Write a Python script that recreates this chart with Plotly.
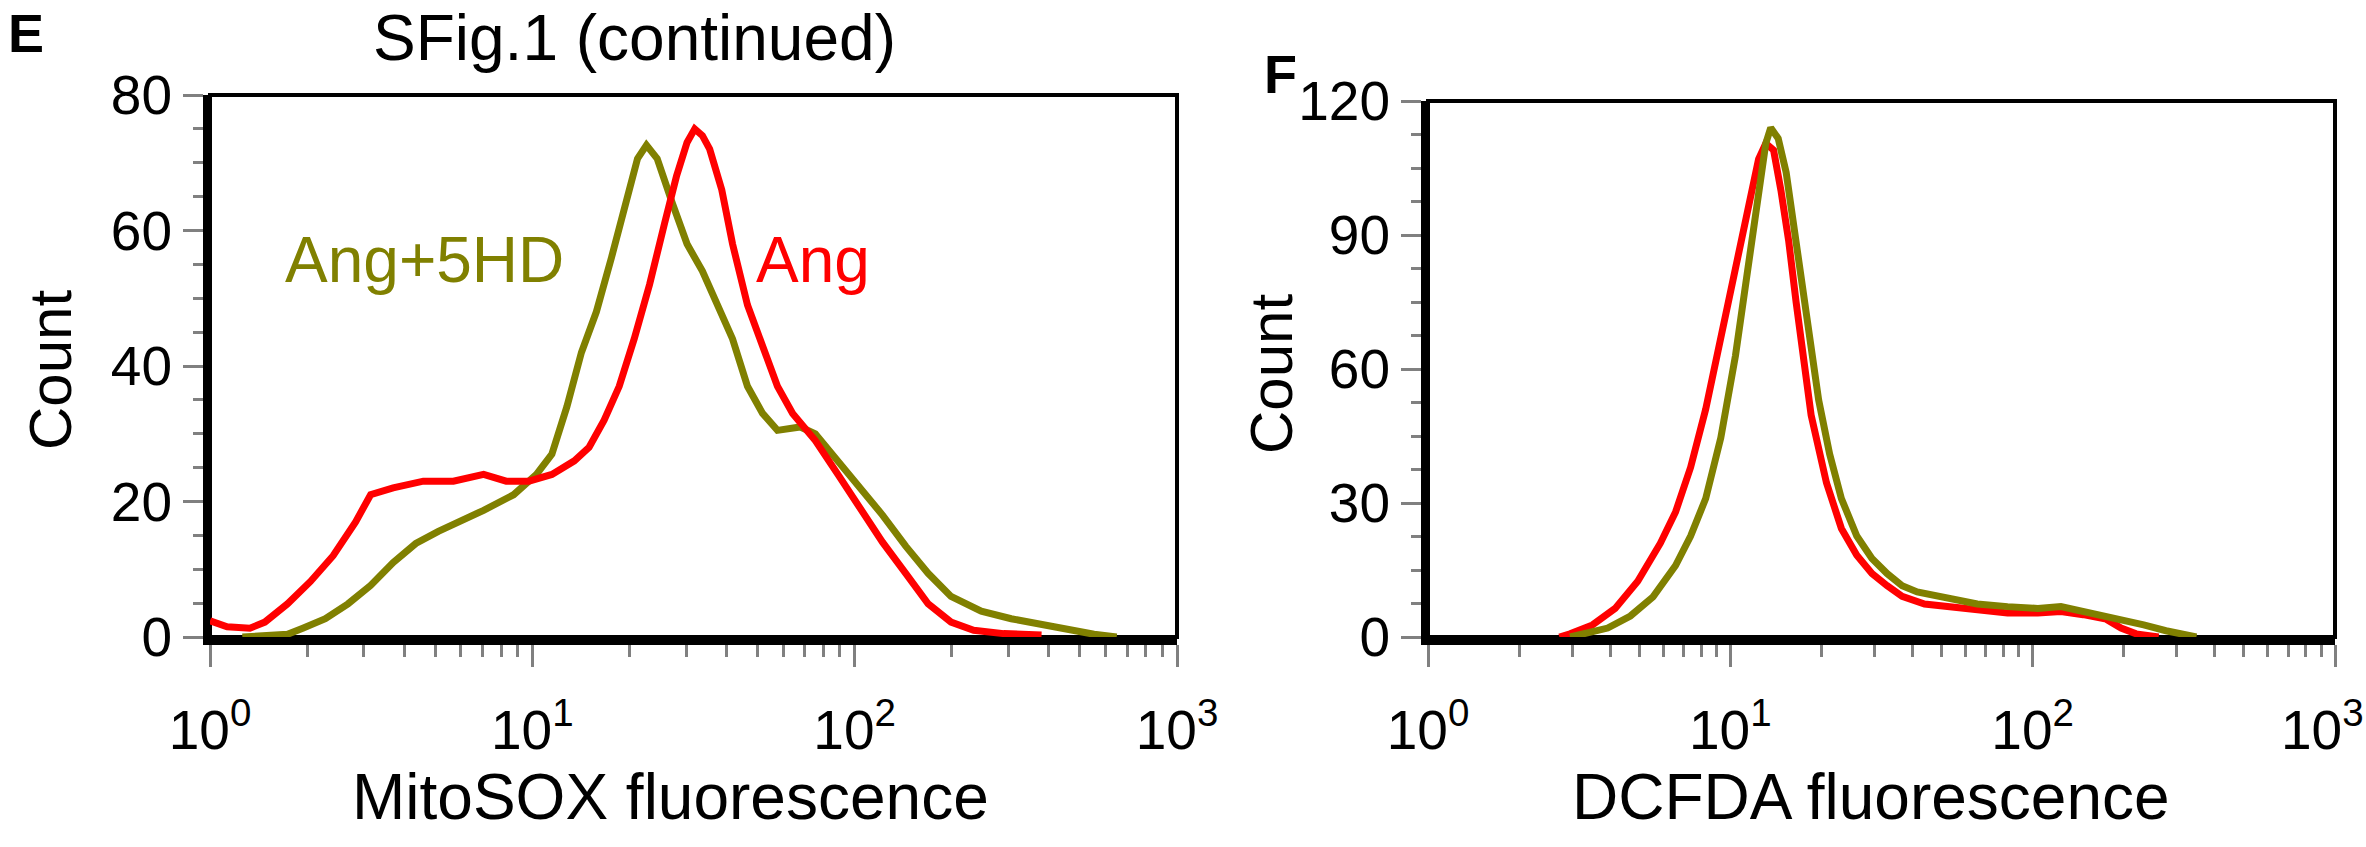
import plotly.graph_objects as go

# ---------------- data ----------------
# Panel E: MitoSOX fluorescence histogram
e_ang_x = [1.00, 1.13, 1.33, 1.48, 1.74, 2.05, 2.41, 2.83, 3.15, 3.70, 4.59, 5.69, 7.06, 8.30,
           9.75, 11.5, 13.5, 15.0, 16.7, 18.6, 20.7, 23.1, 25.7, 28.0, 30.2, 31.9, 33.7, 35.5,
           38.7, 41.8, 46.5, 51.8, 57.6, 64.2, 75.5, 88.7, 104, 122, 144, 169, 199, 234, 290, 380]
e_ang_y = [2.4, 1.5, 1.3, 2.2, 4.9, 8.2, 12, 17, 21, 22, 23, 23, 24, 23,
           23, 24, 26, 28, 32, 37, 44, 52, 61, 68, 73, 75, 74, 72,
           66, 58, 49, 43, 37, 33, 29, 24, 19, 14, 9.4, 4.9, 2.2, 1.0, 0.5, 0.3]

e_5hd_x = [1.26, 1.74, 1.94, 2.28, 2.68, 3.15, 3.70, 4.35, 5.11, 6.01, 7.06, 8.75, 10.3, 11.5,
           12.8, 14.2, 15.8, 17.6, 19.6, 21.2, 22.6, 24.4, 27.2, 30.2, 33.7, 37.5, 41.8, 46.5,
           51.8, 57.6, 67.8, 75.5, 88.7, 104, 122, 144, 169, 199, 247, 306, 380, 471, 553, 650]
e_5hd_y = [0, 0.4, 1.3, 2.7, 4.9, 7.6, 11, 13.8, 15.6, 17.1, 18.7, 21, 24, 27,
           34, 42, 48, 56, 65, 70.6, 72.6, 70.6, 64, 58, 54, 49, 44, 37,
           33, 30.5, 31, 30, 26, 22, 18, 13.4, 9.4, 6, 3.8, 2.7, 1.8, 0.9, 0.4, 0]

# Panel F: DCFDA fluorescence histogram
f_ang_x = [2.72, 2.95, 3.50, 4.16, 4.94, 5.87, 6.59, 7.39, 8.29, 9.30, 10.4, 11.4, 12.4, 13.1,
           13.9, 14.7, 15.6, 16.5, 17.5, 18.5, 20.8, 23.3, 26.2, 29.4, 33.0, 37.0, 43.9, 52.2,
           65.6, 82.6, 104, 124, 147, 175, 196, 220, 261]
f_ang_y = [0, 0.7, 2.7, 6.4, 12.5, 21, 28, 38, 51, 67, 83, 97, 107, 110.5,
           109, 100, 88.6, 75, 61.5, 49.7, 34.5, 24.3, 18.3, 14.2, 11.5, 9.1, 7.4, 6.8,
           6.1, 5.4, 5.4, 5.7, 5.0, 4.0, 2.0, 0.7, 0]

f_5hd_x = [2.95, 3.30, 3.93, 4.67, 5.55, 6.59, 7.39, 8.29, 9.30, 10.4, 11.4, 12.4, 13.1, 13.6,
           14.4, 15.3, 16.5, 17.5, 18.5, 19.6, 21.3, 23.3, 26.2, 29.4, 33.0, 37.0, 41.5, 52.2,
           65.6, 82.6, 104, 124, 147, 185, 233, 276, 310, 348]
f_5hd_y = [0, 0.7, 2, 4.7, 9, 16, 22.6, 31, 44.6, 63, 82, 100, 110.5, 114,
           111.6, 104, 88.6, 75, 63, 53, 41, 31, 22.6, 17.6, 14.2, 11.5, 10.1, 8.8,
           7.4, 6.8, 6.4, 6.8, 5.7, 4.4, 2.7, 1.4, 0.7, 0]

x_tickvals = [1, 10, 100, 1000]
x_ticktext = ["10<sup>0</sup>", "10<sup>1</sup>", "10<sup>2</sup>", "10<sup>3</sup>"]
e_yticks = [0, 20, 40, 60, 80]
f_yticks = [0, 30, 60, 90, 120]

RED = "#ff0000"
OLIVE = "#808000"
GREY = "#808080"
FONT = "Liberation Sans, Arial, sans-serif"
W, H = 2366, 847
TICK_SIZE = 55

# minor tick positions of the log axis (2..9 x 10^k)
minor_vals = [m * 10 ** k for k in range(3) for m in range(2, 10)]

fig = go.Figure()
fig.add_trace(go.Scatter(x=e_5hd_x, y=e_5hd_y, mode="lines", line=dict(color=OLIVE, width=7),
                         xaxis="x", yaxis="y", showlegend=False))
fig.add_trace(go.Scatter(x=e_ang_x, y=e_ang_y, mode="lines", line=dict(color=RED, width=7),
                         xaxis="x", yaxis="y", showlegend=False))
fig.add_trace(go.Scatter(x=f_ang_x, y=f_ang_y, mode="lines", line=dict(color=RED, width=7),
                         xaxis="x2", yaxis="y2", showlegend=False))
fig.add_trace(go.Scatter(x=f_5hd_x, y=f_5hd_y, mode="lines", line=dict(color=OLIVE, width=7),
                         xaxis="x2", yaxis="y2", showlegend=False))


def xaxis_cfg(dom, anchor, ticktext):
    return dict(type="log", range=[0, 3], domain=dom, anchor=anchor, automargin=False,
                showline=True, linewidth=8, linecolor="black", mirror=False,
                showgrid=False, zeroline=False, ticks="outside", ticklen=22, tickwidth=3,
                tickcolor=GREY, tickvals=x_tickvals, ticktext=ticktext,
                tickfont=dict(family=FONT, size=TICK_SIZE, color="black"),
                ticklabelstandoff=16, ticklabeloverflow="allow",
                minor=dict(tickvals=minor_vals, ticks="outside", ticklen=12, tickwidth=3,
                           tickcolor=GREY, showgrid=False))


def yaxis_cfg(dom, anchor, rng, vals, mdt):
    return dict(range=rng, domain=dom, anchor=anchor, automargin=False, showline=True,
                linewidth=7, linecolor="black", mirror=False, showgrid=False, zeroline=False,
                ticks="outside", ticklen=20, tickwidth=3, tickcolor=GREY,
                tickvals=vals, tickfont=dict(family=FONT, size=TICK_SIZE, color="black"),
                ticklabeloverflow="allow",
                minor=dict(dtick=mdt, ticks="outside", ticklen=10, tickwidth=3,
                           tickcolor=GREY, showgrid=False))


# the last label of panel F sits against the page edge: drawn right-aligned below
f_ticktext = x_ticktext[:-1] + [""]

fig.update_layout(
    width=W, height=H, margin=dict(l=0, r=0, t=0, b=0, autoexpand=False),
    paper_bgcolor="white", plot_bgcolor="white",
    xaxis=xaxis_cfg([210 / W, 1177 / W], "y", x_ticktext),
    yaxis=yaxis_cfg([(H - 637) / H, (H - 95) / H], "x", [0, 80], e_yticks, 5),
    xaxis2=xaxis_cfg([1428 / W, 2335 / W], "y2", f_ticktext),
    yaxis2=yaxis_cfg([(H - 637) / H, (H - 101) / H], "x2", [0, 120], f_yticks, 7.5),
)

# top / right frame lines
for xr, yr in (("x domain", "y domain"), ("x2 domain", "y2 domain")):
    fig.add_shape(type="rect", xref=xr, yref=yr, x0=0, x1=1, y0=0, y1=1,
                  line=dict(color="black", width=4), layer="below")


def ann(text, x, y, size, color="black", bold=False, angle=0, xref="paper", yref="paper",
        xanchor="center", yanchor="middle"):
    if bold:
        text = "<b>" + text + "</b>"
    if xref == "paper":
        x = x / W
    if yref == "paper":
        y = 1 - y / H
    fig.add_annotation(text=text, x=x, y=y, xref=xref, yref=yref, showarrow=False,
                       textangle=angle, xanchor=xanchor, yanchor=yanchor,
                       font=dict(family=FONT, size=size, color=color))


ann("E", 26, 33, 54, bold=True)
ann("F", 1280, 74, 54, bold=True)
ann("SFig.1 (continued)", 634, 0, 64, yanchor="top")
ann("Count", 50, 370, 60, angle=-90)
ann("Count", 1272, 374, 60, angle=-90)
ann("MitoSOX fluorescence", 670, 797, 64)
ann("DCFDA fluorescence", 1871, 797, 64)
ann("Ang+5HD", 0.666, 55.6, 64, color=OLIVE, xref="x", yref="y")
ann("Ang", 1.87, 55.6, 64, color=RED, xref="x", yref="y")
ann(x_ticktext[-1], W, 726, TICK_SIZE, xanchor="right")

fig.write_html("out.html", config={"displayModeBar": False},
               post_script="document.body.style.margin='0';")
